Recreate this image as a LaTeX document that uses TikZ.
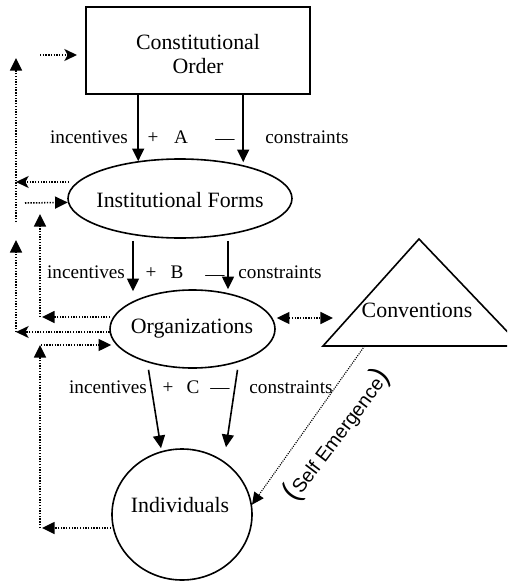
\documentclass[tikz,border=0pt]{standalone}
\usepackage{fontspec}
\setmainfont{Liberation Serif}
\newfontfamily\sefont{Liberation Sans}
\usetikzlibrary{arrows.meta,shapes.geometric,calc}
\begin{document}
\begin{tikzpicture}[x=0.75pt,y=-0.75pt,
  shapeline/.style={line width=1.2pt},
  solidarr/.style={line width=1.2pt,-{Triangle[length=9.5pt,width=9pt]}},
  dotline/.style={line width=1.15pt,dash pattern=on 1pt off 1.05pt},
  dottri/.style={dotline,-{Triangle[length=9.5pt,width=9pt]}},
  dotstl/.style={dotline,-{Stealth[length=9.5pt,width=9pt,inset=2.5pt]}},
  bigtxt/.style={font=\fontsize{16.4}{18}\selectfont,inner sep=0pt},
  smalltxt/.style={font=\fontsize{14.4}{16}\selectfont,inner sep=0pt,anchor=base},
]
\useasboundingbox (0,0) rectangle (507,581);

% shapes
\node[draw,shapeline,minimum width=168pt,minimum height=65.25pt,inner sep=0pt] (box) at (198,50.5) {};
\node[draw,shapeline,ellipse,minimum width=168pt,minimum height=59.25pt,inner sep=0pt] (ifo) at (180,198.5) {};
\node[draw,shapeline,ellipse,minimum width=123.75pt,minimum height=58.5pt,inner sep=0pt] (org) at (192.5,329) {};
\node[draw,shapeline,ellipse,minimum width=105pt,minimum height=98.25pt,inner sep=0pt] (ind) at (182,514.5) {};
\coordinate (tapex) at (419,239);
\coordinate (tl) at (323,346);
\coordinate (tr) at (521,346);
\begin{scope}
  \clip (0,0) rectangle (507,581);
  \draw[shapeline,line join=miter] (tapex) -- (tl) -- (tr) -- cycle;
\end{scope}

% texts
\node[bigtxt,align=center] (tco) at (198,54.5) {Constitutional\\Order};
\node[bigtxt,anchor=base] (tif) at (180,207) {Institutional Forms};
\node[bigtxt,anchor=base] (tor) at (192,333) {Organizations};
\node[bigtxt,anchor=base] (tcv) at (417,317) {Conventions};
\node[bigtxt,anchor=base] (tin) at (180,512) {Individuals};

\node[smalltxt] (ia) at (89,143) {incentives};
\node[smalltxt] (pa) at (153,143) {+};
\node[smalltxt] (la) at (181,143) {A};
\node[smalltxt] (ma) at (225,145) {—};
\node[smalltxt] (ca) at (307,143) {constraints};

\node[smalltxt] (ib) at (86,278) {incentives};
\node[smalltxt] (pb) at (151,278) {+};
\node[smalltxt] (lb) at (177,278) {B};
\node[smalltxt] (mb) at (215,280) {—};
\node[smalltxt] (cb) at (280,278) {constraints};

\node[smalltxt] (ic) at (108,393) {incentives};
\node[smalltxt] (pc) at (168,393) {+};
\node[smalltxt] (lc) at (193,393) {C};
\node[smalltxt] (mc) at (220,393) {—};
\node[smalltxt] (cc) at (291,393) {constraints};

\node[font=\sefont\fontsize{14.6}{16}\selectfont,rotate=53,inner sep=0pt] (se) at (337,435)
  {{\fontsize{22}{22}\selectfont(}Self Emergence{\fontsize{22}{22}\selectfont)}};

% main solid arrows
\coordinate (a1) at ($(box.south west)+(53,0)$);
\coordinate (a2) at ($(box.south west)+(158,0)$);
\draw[solidarr] (a1) -- ($(a1 |- ifo.north)+(0,3)$);
\draw[solidarr] (a2) -- ($(a2 |- ifo.north)+(0,4)$);
\coordinate (b1) at ($(ifo.south)+(-47,2)$);
\coordinate (b2) at ($(ifo.south)+(48,2)$);
\draw[solidarr] (b1) -- ($(b1 |- org.north)+(0,2)$);
\draw[solidarr] (b2) -- (b2 |- org.north);
\draw[solidarr] ($(org.south)+(-44,1)$) -- ($(ind.north)+(-21,0)$);
\draw[solidarr] ($(org.south)+(45,1)$) -- ($(ind.north)+(44,-1)$);

% feedback dotted arrows
\coordinate (tp0) at (40,55);
\coordinate (tp1) at (77,55);
\draw[dotstl] (tp0) -- (tp1);

\coordinate (r1a) at (16,222);
\coordinate (r1b) at (16,58);
\coordinate (p182) at (16,182);
\draw[dottri] (r1a) -- (r1b);
\draw[dotstl] ($(ifo.west)+(2,-16.5)$) -- (p182);
\coordinate (q203) at (25,203);
\draw[dottri] (q203) -- (ifo.182);

\coordinate (r2a) at (16,332);
\coordinate (r2b) at (16,240);
\draw[dottri] (r2a) -- (r2b);
\draw[dotstl] ($(org.west)+(0.5,3)$) -- (r2a);

\coordinate (r3a) at (40,317);
\coordinate (r3b) at (40,214);
\draw[dottri] (r3a) -- (r3b);
\draw[dottri] ($(org.west)+(1,-12)$) -- ($(r3a)+(2,0)$);

\coordinate (r4a) at (40,528);
\coordinate (r4b) at (40,345);
\draw[dottri] (r4a) -- (r4b);
\draw[dottri] ($(ind.west)+(0,13.5)$) -- ($(r4a)+(2,0)$);
\draw[dottri] ($(r4b)+(1,0)$) -- ($(org.west)+(2,16)$);

% organizations <-> conventions
\coordinate (cvl) at (333,318);
\draw[dotline,{Triangle[length=9.5pt,width=9pt]}-{Triangle[length=9.5pt,width=9pt]}] ($(org.east)+(1,-11)$) -- (cvl);

% self emergence
\coordinate (seS) at ($(tl)!0.21!(tr)$);
\draw[line width=0.85pt,dash pattern=on 0.8pt off 0.9pt,-{Triangle[length=9pt,width=8.5pt]}] (seS) -- (ind.8);
\end{tikzpicture}
\end{document}
